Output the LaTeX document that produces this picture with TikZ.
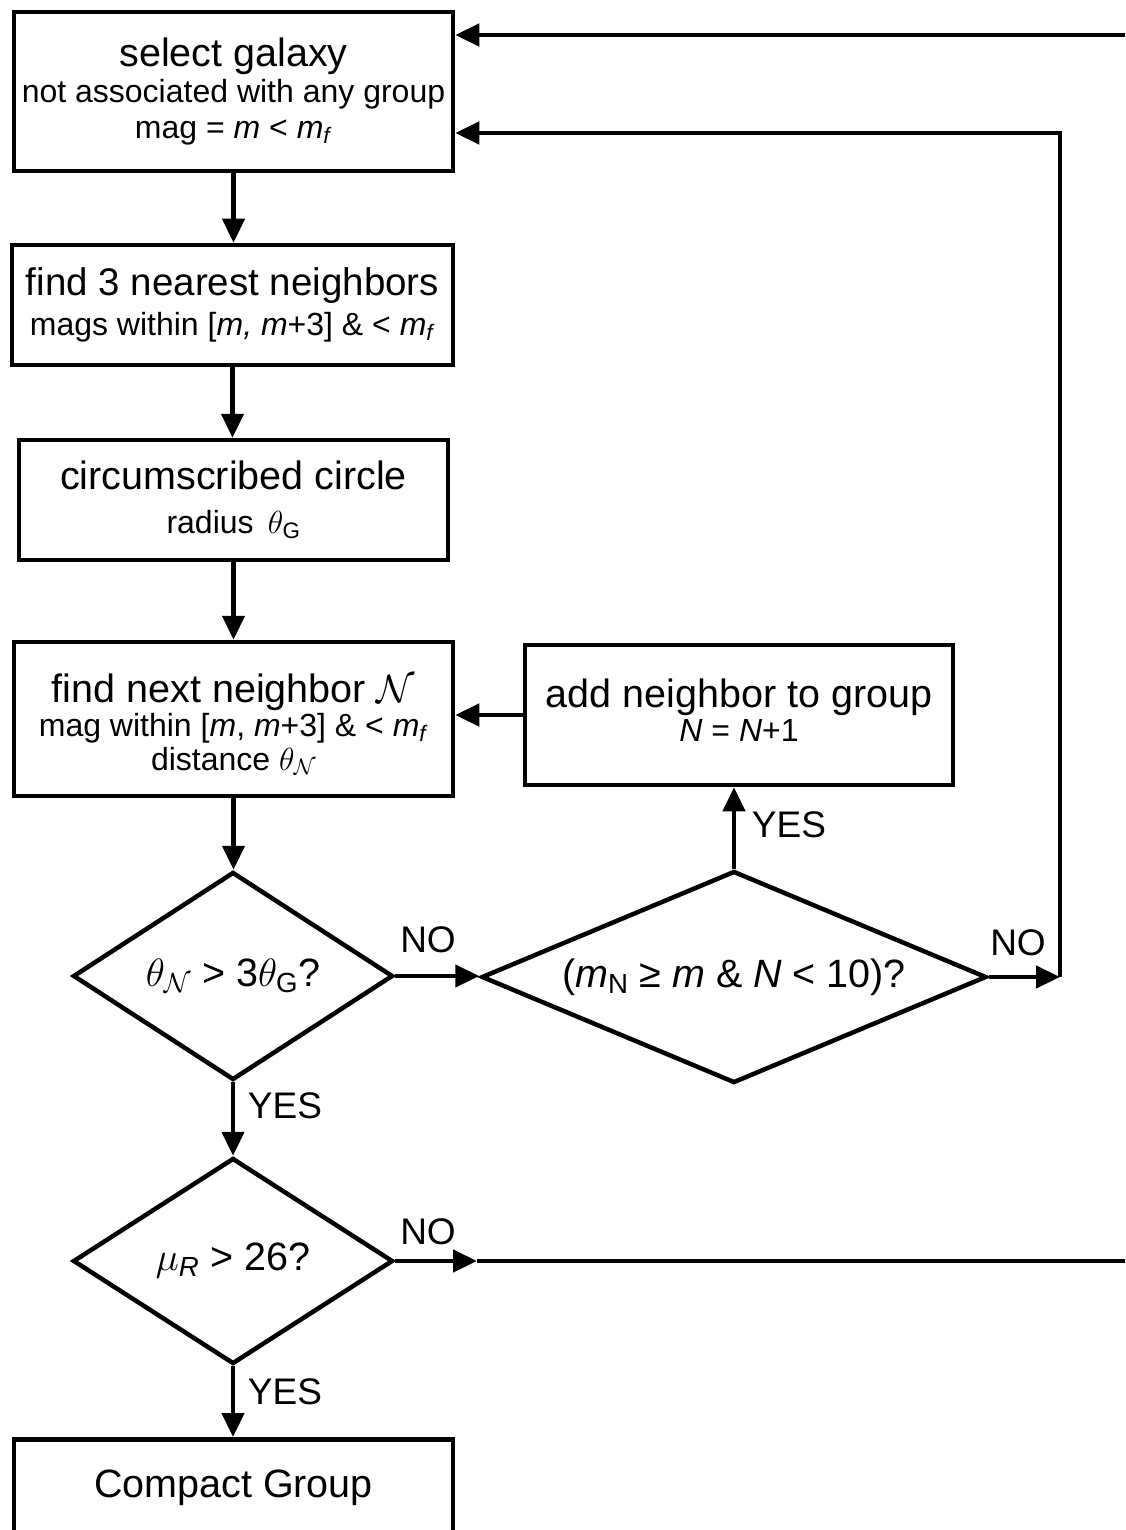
\documentclass[tikz,border=0pt]{standalone}
\usepackage{fix-cm}
\usepackage{amsmath}
\usepackage{fontspec}
\setmainfont{Liberation Sans}
\usetikzlibrary{shapes.geometric,arrows.meta}
\newcommand\bigtxt{\fontsize{39.5}{44}\selectfont}
\newcommand\smalltxt{\fontsize{32}{36}\selectfont}
\newcommand\labtxt{\fontsize{37}{40}\selectfont}
\begin{document}
\begin{tikzpicture}[x=1pt,y=-1pt,
  lw/.style={line width=4.5pt},
  box/.style={draw, lw, rectangle, inner sep=0pt, align=center, font=\smalltxt},
  dec/.style={draw, lw, diamond, inner sep=0pt, align=center, font=\bigtxt},
  arr/.style={lw, -{Triangle[length=24pt,width=22pt]}},
  lbl/.style={font=\labtxt, inner sep=0pt}]
\useasboundingbox (0,0) rectangle (1125,1530);
\clip (0,0) rectangle (1125,1530);

\node[box, minimum width=439pt, minimum height=159pt] (b1) at (233.5,91.5)
  {{\bigtxt select galaxy}\\not associated with any group\\mag = \textit{m} < \textit{m}\textsubscript{\textit{f}}};
\node[box, minimum width=441pt, minimum height=120pt] (b2) at (232.5,305)
  {{\fontsize{38.5}{44}\selectfont find 3 nearest neighbors}\\[4pt]mags within [\textit{m,} \textit{m}+3] \& < \textit{m}\textsubscript{\textit{f}}};
\node[box, minimum width=429pt, minimum height=120pt] (b3) at (233.5,500)
  {{\bigtxt circumscribed circle}\\[8pt]radius \,$\theta_{\text{G}}$};
\node[box, minimum width=439pt, minimum height=154pt, font=\fontsize{32}{34}\selectfont] (b4) at (233.5,719)
  {{\bigtxt\rule{0pt}{39pt}find next neighbor $\mathcal{N}$}\\mag within [\textit{m}, \textit{m}+3] \& < \textit{m}\textsubscript{\textit{f}}\\distance $\theta_{\mathcal{N}}$};
\node[box, minimum width=428pt, minimum height=140pt, font=\fontsize{32}{34}\selectfont] (b5) at (739,715)
  {{\bigtxt add neighbor to group}\\\textit{N} = \textit{N}+1\\[-24pt]\raisebox{0pt}[0pt][0pt]{}};
\node[box, anchor=north, minimum width=439pt, minimum height=110pt, text height=28pt, text depth=22pt, font=\bigtxt] (b6) at (233.5,1437)
  {Compact Group};

\node[dec, minimum width=320pt, minimum height=208pt, shape aspect=1.5] (d1) at (233,976)
  {$\theta_{\mathcal{N}}$ > 3$\theta_{\text{G}}$?};
\node[dec, minimum width=505pt, minimum height=212pt, shape aspect=2.4] (d2) at (734,977)
  {(\textit{m}\textsubscript{N} ≥ \textit{m} \& \textit{N} < 10)?};
\node[dec, minimum width=320pt, minimum height=206pt, shape aspect=1.5] (d3) at (233,1261)
  {$\mu_{\textit{R}}$ > 26?};

\coordinate (c1) at (477,1261);
\coordinate (c2) at (1060,977);
\coordinate (q1) at (0,133);
\coordinate (r1) at (1160,1261);
\coordinate (r2) at (1160,35);

\draw[arr] (b1.south) -- (b1.south |- b2.north);
\draw[arr] (b2.south) -- (b2.south |- b3.north);
\draw[arr] (b3.south) -- (b3.south |- b4.north);
\draw[arr] (b4.south) -- (b4.south |- d1.north);
\draw[arr] (b5.west) -- (b5.west -| b4.east);
\draw[arr] (d1.east) -- (d1.east -| d2.west);
\draw[arr] (d2.north) -- (d2.north |- b5.south);
\draw[arr] (d2.east) -- (c2);
\draw[arr] (c2) -- (c2 |- q1) -- (b1.east |- q1);
\draw[arr] (d1.south) -- (d1.south |- d3.north);
\draw[arr] (d3.south) -- (d3.south |- b6.north);
\draw[arr] (d3.east) -- (c1);
\draw[arr] (c1) -- (r1) -- (r2) -- (b1.east |- r2);

\node[lbl] (no1) at (428,940) {NO};
\node[lbl] (no2) at (1018,943) {NO};
\node[lbl] (yes1) at (789,825) {YES};
\node[lbl] (yes2) at (285,1106) {YES};
\node[lbl] (no3) at (428,1232) {NO};
\node[lbl] (yes3) at (285,1392) {YES};
\end{tikzpicture}
\end{document}
